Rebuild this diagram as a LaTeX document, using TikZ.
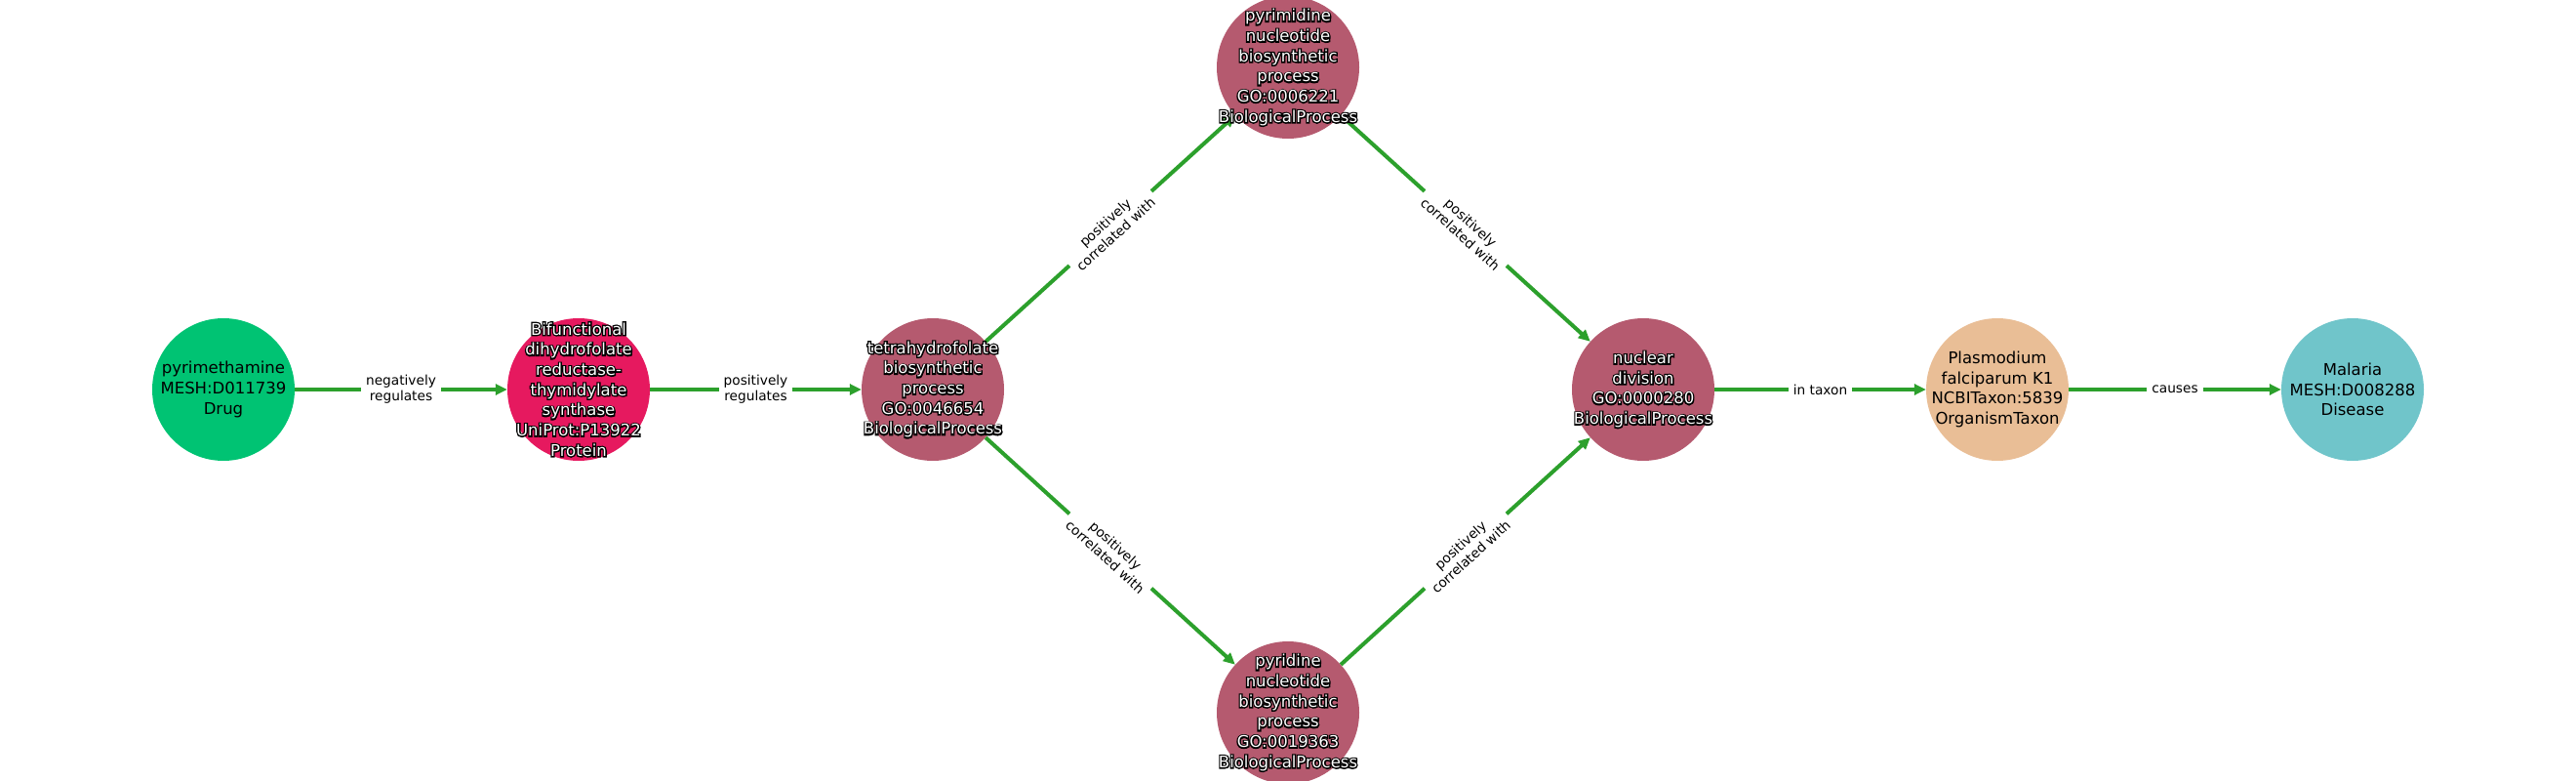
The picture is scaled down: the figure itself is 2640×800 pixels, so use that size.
\documentclass[tikz,border=0pt]{standalone}
\usepackage{fontspec}
\setmainfont{DejaVu Sans}
\newfontfamily\outlfont{DejaVu Sans}[FakeBold=16]
\usetikzlibrary{arrows.meta}
\definecolor{edgegreen}{HTML}{2CA02C}
\definecolor{drugc}{HTML}{00C373}
\definecolor{protc}{HTML}{E6195F}
\definecolor{bpc}{HTML}{B55A6F}
\definecolor{taxc}{HTML}{E9BE96}
\definecolor{disc}{HTML}{70C5CA}
\begin{document}
\begin{tikzpicture}[x=1pt,y=-1pt,
  ent/.style={circle, minimum size=146pt, inner sep=0pt},
  entlab/.style={align=center, inner sep=0pt, font=\fontsize{16.5}{20.7}\selectfont},
  darklab/.style={entlab, text=white},
  shadowlab/.style={align=center, inner sep=0pt, text=black, font=\outlfont\fontsize{16.5}{20.7}\selectfont},
  lightlab/.style={entlab, text=black},
  edgelab/.style={fill=white, inner xsep=5pt, inner ysep=3pt, align=center, text=black,
    font=\fontsize{13.7}{16}\selectfont},
  rel/.style={draw=edgegreen, line width=4pt, -{Triangle[length=12pt,width=11pt]}}]
\useasboundingbox (0,0) rectangle (2640,800);
% entity circles
\node[ent, fill=drugc] (pyr) at (229,399) {};
\node[ent, fill=protc] (bif) at (593,399) {};
\node[ent, fill=bpc] (thf) at (956,399) {};
\node[ent, fill=bpc] (pym) at (1320,69) {};
\node[ent, fill=bpc] (pyd) at (1320,730) {};
\node[ent, fill=bpc] (nuc) at (1684,399) {};
\node[ent, fill=taxc] (pla) at (2047,399) {};
\node[ent, fill=disc] (mal) at (2411,399) {};
% relations
\draw[rel] (pyr) -- node[edgelab] (l1) {negatively\\regulates} (bif);
\draw[rel] (bif) -- node[edgelab] (l2) {positively\\regulates} (thf);
\draw[rel] (thf) -- node[edgelab, sloped] (l3) {positively\\correlated with} (pym);
\draw[rel] (thf) -- node[edgelab, sloped] (l4) {positively\\correlated with} (pyd);
\draw[rel] (pym) -- node[edgelab, sloped] (l5) {positively\\correlated with} (nuc);
\draw[rel] (pyd) -- node[edgelab, sloped] (l6) {positively\\correlated with} (nuc);
\draw[rel] (nuc) -- node[edgelab] (l7) {in taxon} (pla);
\draw[rel] (pla) -- node[edgelab] (l8) {causes} (mal);
% entity texts on top (black halo, then white text)
\node[lightlab] (pyrt) at (pyr) {pyrimethamine\\MESH:D011739\\Drug};
\node[shadowlab] (bifo) at (bif) {Bifunctional\\dihydrofolate\\reductase-\\thymidylate\\synthase\\UniProt:P13922\\Protein};
\node[darklab] (bift) at (bif) {Bifunctional\\dihydrofolate\\reductase-\\thymidylate\\synthase\\UniProt:P13922\\Protein};
\node[shadowlab] (thfo) at (thf) {tetrahydrofolate\\biosynthetic\\process\\GO:0046654\\BiologicalProcess};
\node[darklab] (thft) at (thf) {tetrahydrofolate\\biosynthetic\\process\\GO:0046654\\BiologicalProcess};
\node[shadowlab] (pymo) at (pym) {pyrimidine\\nucleotide\\biosynthetic\\process\\GO:0006221\\BiologicalProcess};
\node[darklab] (pymt) at (pym) {pyrimidine\\nucleotide\\biosynthetic\\process\\GO:0006221\\BiologicalProcess};
\node[shadowlab] (pydo) at (pyd) {pyridine\\nucleotide\\biosynthetic\\process\\GO:0019363\\BiologicalProcess};
\node[darklab] (pydt) at (pyd) {pyridine\\nucleotide\\biosynthetic\\process\\GO:0019363\\BiologicalProcess};
\node[shadowlab] (nuco) at (nuc) {nuclear\\division\\GO:0000280\\BiologicalProcess};
\node[darklab] (nuct) at (nuc) {nuclear\\division\\GO:0000280\\BiologicalProcess};
\node[lightlab] (plat) at (pla) {Plasmodium\\falciparum K1\\NCBITaxon:5839\\OrganismTaxon};
\node[lightlab] (malt) at (mal) {Malaria\\MESH:D008288\\Disease};
\end{tikzpicture}
\end{document}
